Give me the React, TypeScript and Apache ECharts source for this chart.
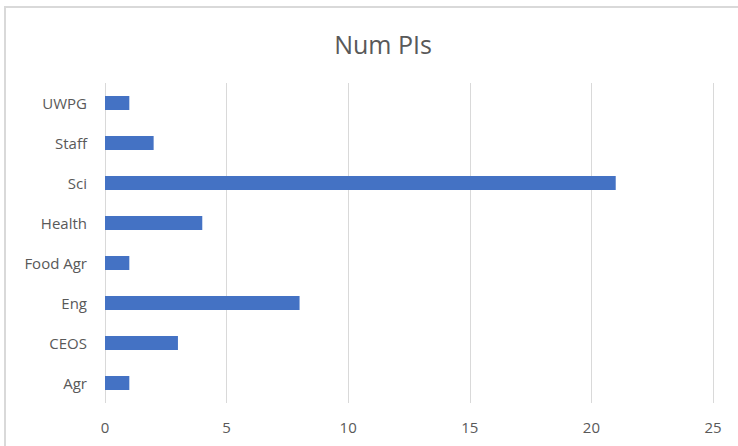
import React, { useEffect, useRef } from "react";
import * as echarts from "echarts";

const categories = ["Agr", "CEOS", "Eng", "Food Agr", "Health", "Sci", "Staff", "UWPG"];
const values = [1, 3, 8, 1, 4, 21, 2, 1];
const xTicks = { min: 0, max: 25, interval: 5 };
const titleText = "Num PIs";

export default function App() {
  const ref = useRef<HTMLDivElement>(null);
  useEffect(() => {
    if (!ref.current) return;
    const chart = echarts.init(ref.current, undefined, { renderer: "svg" });
    const font = "'Open Sans', 'Noto Sans', sans-serif";
    chart.setOption({
      animation: false,
      backgroundColor: "#ffffff",
      title: {
        text: titleText,
        left: 378,
        top: 26,
        textAlign: "center",
        textStyle: { fontFamily: font, fontSize: 25, fontWeight: "normal", color: "#595959" },
      },
      graphic: [
        {
          type: "polyline",
          shape: { points: [[5, 446], [5, 7], [738, 7]] },
          style: { stroke: "#d9d9d9", lineWidth: 2, fill: "none" },
          silent: true,
        },
      ],
      grid: { left: 105, right: 25, top: 83, bottom: 43, containLabel: false },
      xAxis: {
        type: "value",
        min: xTicks.min,
        max: xTicks.max,
        interval: xTicks.interval,
        axisLine: { show: false },
        axisTick: { show: false },
        splitLine: { show: true, lineStyle: { color: "#d9d9d9", width: 1 } },
        axisLabel: { fontFamily: font, fontSize: 15, color: "#595959", margin: 16 },
      },
      yAxis: {
        type: "category",
        data: categories,
        axisLine: { show: false },
        axisTick: { show: false },
        axisLabel: { fontFamily: font, fontSize: 15, color: "#595959", margin: 18 },
      },
      series: [
        {
          type: "bar",
          data: values,
          barWidth: "35%",
          itemStyle: { color: "#4472C4" },
        },
      ],
    });
    return () => chart.dispose();
  }, []);
  return (
    <div
      ref={ref}
      style={{ position: "fixed", left: 0, top: 0, width: 738, height: 446 }}
    />
  );
}
